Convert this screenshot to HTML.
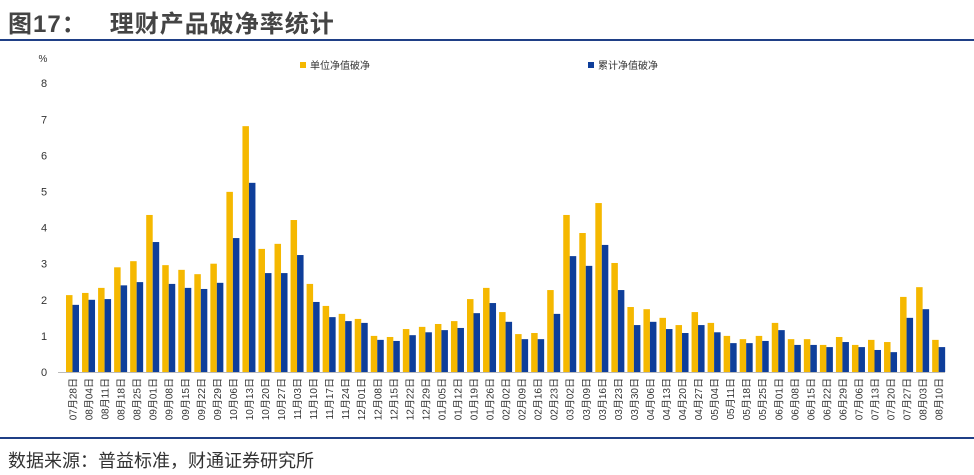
<!DOCTYPE html>
<html><head><meta charset="utf-8">
<style>
body{margin:0;width:974px;height:475px;background:#fff;font-family:"Liberation Sans","Noto Sans CJK SC",sans-serif;overflow:hidden;position:relative}
.title{position:absolute;left:8px;top:4px;font-size:24px;font-weight:bold;color:#444;letter-spacing:1px}
.line{position:absolute;left:0;width:974px;background:#1f3f86}
.src{position:absolute;left:8px;top:447px;font-size:18px;color:#333}
</style></head><body>
<div class="title">图17：&nbsp;&nbsp;&nbsp;理财产品破净率统计</div>
<div class="line" style="top:39px;height:2px"></div>
<div class="line" style="top:437px;height:2px"></div>
<div class="src">数据来源：普益标准，财通证券研究所</div>
<svg id="chart" width="974" height="475" style="position:absolute;left:0;top:0"></svg>
<script>
const categories=["07月28日","08月04日","08月11日","08月18日","08月25日","09月01日","09月08日","09月15日","09月22日","09月29日","10月06日","10月13日","10月20日","10月27日","11月03日","11月10日","11月17日","11月24日","12月01日","12月08日","12月15日","12月22日","12月29日","01月05日","01月12日","01月19日","01月26日","02月02日","02月09日","02月16日","02月23日","03月02日","03月09日","03月16日","03月23日","03月30日","04月06日","04月13日","04月20日","04月27日","05月04日","05月11日","05月18日","05月25日","06月01日","06月08日","06月15日","06月22日","06月29日","07月06日","07月13日","07月20日","07月27日","08月03日","08月10日"];
const unitNav=[2.13,2.19,2.33,2.9,3.07,4.35,2.96,2.83,2.71,3.0,4.99,6.81,3.41,3.55,4.21,2.44,1.83,1.61,1.47,1.0,0.97,1.19,1.25,1.33,1.41,2.02,2.33,1.66,1.05,1.08,2.27,4.35,3.85,4.68,3.02,1.8,1.74,1.5,1.3,1.66,1.36,1.0,0.91,1.0,1.36,0.91,0.91,0.75,0.97,0.75,0.89,0.83,2.08,2.35,0.89];
const cumNav=[1.86,2.0,2.02,2.4,2.49,3.6,2.44,2.33,2.3,2.47,3.71,5.24,2.74,2.74,3.24,1.94,1.52,1.41,1.36,0.89,0.86,1.02,1.1,1.16,1.22,1.63,1.91,1.39,0.91,0.91,1.61,3.21,2.94,3.52,2.27,1.3,1.39,1.19,1.08,1.3,1.1,0.8,0.8,0.86,1.16,0.75,0.75,0.69,0.83,0.69,0.61,0.55,1.5,1.74,0.69];
const yTicks=[0,1,2,3,4,5,6,7,8];
const seriesNames=["单位净值破净","累计净值破净"];
const colors=["#f5b800","#0e3e9a"];
const svg=document.getElementById('chart');
const NS="http://www.w3.org/2000/svg";
const y0=372,pxPer=36.1,x0=61,step=16.04;
const yScale=v=>y0-v*pxPer;
const xScale=i=>x0+i*step;
function mk(tag,attrs){const e=document.createElementNS(NS,tag);for(const k in attrs)e.setAttribute(k,attrs[k]);svg.appendChild(e);return e;}
yTicks.forEach(t=>{const e=mk('text',{x:44,y:yScale(t)+4,'font-size':11,fill:'#333','text-anchor':'middle'});e.textContent=t;

});
const pct=mk('text',{x:43,y:62,'font-size':10,fill:'#333','text-anchor':'middle'});pct.textContent='%';


const ax=mk('line',{x1:58,x2:945,y1:y0+0.5,y2:y0+0.5,stroke:'#bbb','stroke-width':1});


categories.forEach((c,i)=>{const cx=xScale(i);
const a=mk('rect',{x:cx+5,y:yScale(unitNav[i]),width:6.5,height:unitNav[i]*pxPer,fill:colors[0]});


const b=mk('rect',{x:cx+11.5,y:yScale(cumNav[i]),width:6.5,height:cumNav[i]*pxPer,fill:colors[1]});


const t=mk('text',{x:0,y:0,'font-size':10,fill:'#333','text-anchor':'end',transform:`translate(${cx+15.5},378) rotate(-90)`});t.textContent=c;

});
[[300,seriesNames[0],colors[0]],[588,seriesNames[1],colors[1]]].forEach(([x,n,col])=>{
const r=mk('rect',{x:x,y:62,width:6,height:6,fill:col});


const t=mk('text',{x:x+10,y:69,'font-size':10,fill:'#333'});t.textContent=n;

});
</script>
</body></html>
